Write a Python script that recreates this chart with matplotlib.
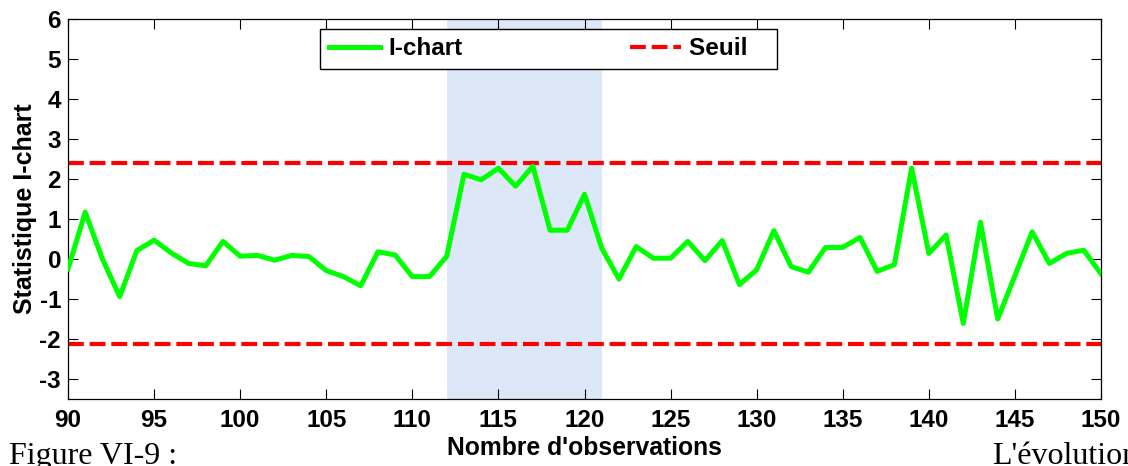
import numpy as np
import matplotlib.pyplot as plt

plt.rcParams['font.family'] = ['Liberation Sans', 'DejaVu Sans']
plt.rcParams['axes.unicode_minus'] = False

# observations 90..150
obs = np.arange(90, 151)
ichart = [-0.25, 1.17, 0.0, -0.94, 0.21, 0.47, 0.15, -0.11, -0.17, 0.44,
          0.07, 0.09, -0.03, 0.09, 0.06, -0.29, -0.44, -0.67, 0.18, 0.10,
          -0.44, -0.44, 0.07, 2.12, 1.98, 2.27, 1.82, 2.32, 0.72, 0.72,
          1.62, 0.27, -0.50, 0.31, 0.02, 0.02, 0.44, -0.04, 0.46, -0.64,
          -0.27, 0.71, -0.19, -0.33, 0.29, 0.29, 0.54, -0.31, -0.14, 2.27,
          0.14, 0.60, -1.61, 0.92, -1.50, -0.42, 0.68, -0.11, 0.14, 0.22,
          -0.37]
seuil_haut = 2.4
seuil_bas = -2.13
zone = (112, 121)
xticks = np.arange(90, 151, 5)
yticks = np.arange(-3, 7, 1)

fig = plt.figure(figsize=(11.28, 4.66), dpi=100)
ax = fig.add_axes([68/1128, 1 - 399/466, 1033/1128, 380/466])

ax.axvspan(zone[0], zone[1], color='#dce8f8', lw=0, zorder=0)
ax.plot(obs, ichart, color='#00ff00', lw=3.6, label='I-chart', zorder=3)
ax.plot([obs[0], obs[-1]], [seuil_haut, seuil_haut], color='#ff0000', lw=3,
        dashes=(3.8, 1.4), label='Seuil   ', zorder=2)
ax.plot([obs[0], obs[-1]], [seuil_bas, seuil_bas], color='#ff0000', lw=3,
        dashes=(3.8, 1.4), zorder=2)

ax.set_xlim(90, 150)
ax.set_ylim(-3.5, 6)
ax.set_xticks(xticks)
ax.set_yticks(yticks)
ax.tick_params(direction='in', top=True, right=True, length=7, width=0.8,
               labelsize=17.5)
ax.tick_params(axis='x', pad=7)
ax.tick_params(axis='y', pad=5)
for lab in ax.get_xticklabels() + ax.get_yticklabels():
    lab.set_fontweight('bold')
for s in ax.spines.values():
    s.set_linewidth(0.9)

ax.set_xlabel("Nombre d'observations", fontsize=17.8, fontweight='bold', labelpad=3)
ax.set_ylabel('Statistique I-chart', fontsize=18, fontweight='bold', labelpad=2)

leg = ax.legend(loc='upper left', ncol=2, bbox_to_anchor=(0.244, 0.974),
                prop={'weight': 'bold', 'size': 17.5}, columnspacing=6.9,
                fancybox=False, framealpha=1, edgecolor='black',
                handlelength=2.1, handletextpad=0.35, borderaxespad=0, borderpad=0.35)
leg.get_frame().set_linewidth(1)

fig.text(9/1128, 2/466, 'Figure VI-9 :', family='Liberation Serif', fontsize=23)
fig.text(992/1128, 2/466, "L'évolution", family='Liberation Serif', fontsize=23)

plt.savefig('out.png', dpi=100)
